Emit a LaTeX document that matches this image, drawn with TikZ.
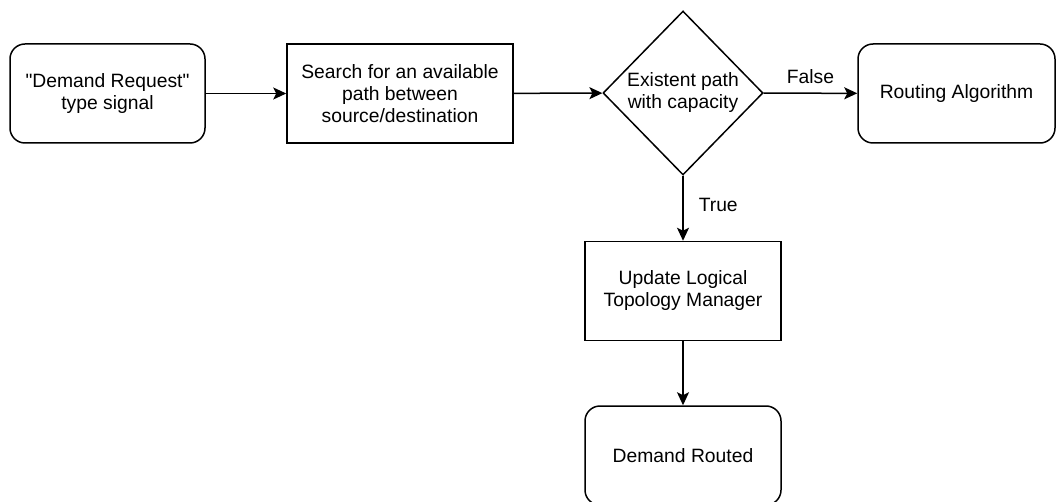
\documentclass[tikz,border=0pt]{standalone}
\usepackage{fontspec}
\setmainfont{Liberation Sans}
\usetikzlibrary{shapes.geometric,arrows.meta}
\tikzset{
  x=1pt, y=-1pt,
  base/.style={draw=black, line width=1.5pt, align=center, inner sep=2pt,
    font=\fontsize{19.3pt}{22pt}\selectfont},
  procbox/.style={base, rectangle, minimum width=#1, minimum height=99pt},
  termbox/.style={base, rectangle, rounded corners=15pt, minimum width=#1, minimum height=99pt},
  decision/.style={base, diamond, minimum width=160pt, minimum height=164pt, inner sep=0pt},
  flow/.style={line width=1.5pt, -{Stealth[length=13pt,width=12pt,inset=3pt]}},
  lbl/.style={font=\fontsize{19.3pt}{22pt}\selectfont, inner sep=0pt}
}
\begin{document}
\begin{tikzpicture}
\useasboundingbox (0,0) rectangle (1056,502);
\clip (0,0) rectangle (1056,502);
% process nodes
\node[termbox=195pt] (req) at (107.5,93.5) {\textquotedbl Demand Request\textquotedbl\\type signal};
\node[procbox=226pt] (search) at (400,93.5) {Search for an available\\path between\\source/destination};
\node[decision] (dec) at (683,93) {Existent path\\with capacity};
\node[termbox=197pt] (route) at (956.5,93.5) {Routing Algorithm};
\node[procbox=196pt] (update) at (683,291) {Update Logical\\Topology Manager};
\node[termbox=196pt] (done) at (683,455.5) {Demand Routed};
% connectors
\draw[flow] (req) -- (search);
\draw[flow] (search) -- (dec);
\draw[flow] (dec) -- node[lbl, above=9pt] {False} (route);
\draw[flow] (dec) -- node[lbl, right=15pt, pos=0.45] {True} (update);
\draw[flow] (update) -- (done);
\end{tikzpicture}
\end{document}
